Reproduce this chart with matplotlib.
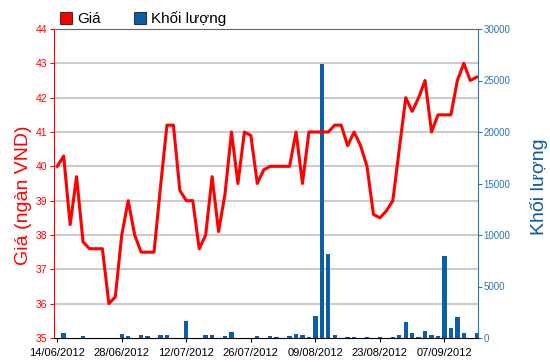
import matplotlib
matplotlib.use("Agg")
import matplotlib.pyplot as plt
import matplotlib.transforms as mtransforms
from matplotlib.patches import Patch

plt.rcParams['font.family'] = ['Liberation Sans', 'DejaVu Sans']

# trading days, one tick label every 10 sessions
tick_idx = [0, 10, 20, 30, 40, 50, 60]
tick_labels = ['14/06/2012', '28/06/2012', '12/07/2012', '26/07/2012',
               '09/08/2012', '23/08/2012', '07/09/2012']

# closing price (thousand VND)
price = [40.0, 40.3, 38.3, 39.7, 37.8, 37.6, 37.6, 37.6, 36.0, 36.2,
         38.0, 39.0, 38.0, 37.5, 37.5, 37.5, 39.4, 41.2, 41.2, 39.3,
         39.0, 39.0, 37.6, 38.0, 39.7, 38.1, 39.2, 41.0, 39.5, 41.0,
         40.9, 39.5, 39.9, 40.0, 40.0, 40.0, 40.0, 41.0, 39.5, 41.0,
         41.0, 41.0, 41.0, 41.2, 41.2, 40.6, 41.0, 40.6, 40.0, 38.6,
         38.5, 38.7, 39.0, 40.5, 42.0, 41.6, 42.0, 42.5, 41.0, 41.5,
         41.5, 41.5, 42.5, 43.0, 42.5, 42.6]

# traded volume
volume = [0, 520, 0, 0, 160, 0, 0, 0, 0, 0,
          390, 160, 0, 260, 160, 0, 260, 260, 0, 0,
          1650, 0, 0, 260, 260, 0, 160, 615, 0, 0,
          0, 160, 0, 230, 130, 0, 230, 390, 260, 130,
          2170, 26600, 8200, 260, 0, 130, 130, 0, 130, 0,
          100, 0, 130, 260, 1550, 520, 130, 710, 260, 160,
          8000, 970, 2040, 520, 0, 520]

price_ticks = [35, 36, 37, 38, 39, 40, 41, 42, 43, 44]
vol_ticks = [0, 5000, 10000, 15000, 20000, 25000, 30000]

red = '#ff0000'
blue_bar = '#0b5ea8'
blue_axis = '#2a78b4'
blue_label = '#0d5c9c'

fig = plt.figure(figsize=(5.5, 3.64), dpi=100)
ax = fig.add_axes([54 / 550, 26 / 364, 424 / 550, 309 / 364])
ax_vol = ax.twinx()

x = list(range(len(price)))

# volume bars (behind the price line)
ax_vol.bar(x, volume, width=0.68, color=blue_bar, zorder=2)
ax_vol.set_ylim(0, 30000)
ax_vol.set_yticks(vol_ticks)
ax_vol.set_yticklabels([str(v) for v in vol_ticks])
ax_vol.tick_params(axis='y', colors=blue_axis, labelsize=7, length=3, width=0.8, pad=1)

# horizontal grid at the price ticks, drawn under the bars
grid_tr = mtransforms.blended_transform_factory(ax_vol.transAxes, ax.transData)
for p in price_ticks[1:-1]:
    ax_vol.plot([0, 1], [p, p], transform=grid_tr, color='#cccccc', lw=1.5, zorder=0)

# price line
ax.set_zorder(ax_vol.get_zorder() + 1)
ax.patch.set_visible(False)
ax.plot(x, price, color=red, lw=2.2, zorder=3, solid_joinstyle='round')
ax.set_ylim(35, 44)
ax.set_yticks(price_ticks)
ax.tick_params(axis='y', colors=red, labelsize=7.5, length=3, width=0.8, pad=2)

ax.set_xlim(-0.5, 65.2)
ax.set_xticks(tick_idx)
ax.set_xticklabels(tick_labels)
ax.tick_params(axis='x', colors='black', labelsize=8, length=3, width=0.8, pad=4)

ax.spines['right'].set_visible(False)
ax.spines['left'].set_color(red)
ax.spines['top'].set_color('#666666')
ax.spines['bottom'].set_color('black')
for s in ['left', 'top', 'bottom']:
    ax_vol.spines[s].set_visible(False)
ax_vol.spines['right'].set_color(blue_axis)

fig.text(24 / 550, 1 - 195 / 364, 'Giá (ngàn VND)', rotation=90, ha='center',
         va='center', color=red, fontsize=14)
fig.text(539 / 550, 1 - 187 / 364, 'Khối lượng', rotation=90, ha='center',
         va='center', color=blue_label, fontsize=14)

handles = [Patch(facecolor=red, edgecolor='#333333', lw=0.8, label='Giá'),
           Patch(facecolor=blue_bar, edgecolor='#333333', lw=0.8, label='Khối lượng')]
fig.legend(handles=handles, loc='center left', bbox_to_anchor=(60 / 550, 1 - 18.5 / 364),
           ncol=2, frameon=False, fontsize=11, handlelength=0.8, handleheight=0.85,
           handletextpad=0.3, columnspacing=2.2, borderpad=0, borderaxespad=0)

fig.savefig('out.png', dpi=100)
